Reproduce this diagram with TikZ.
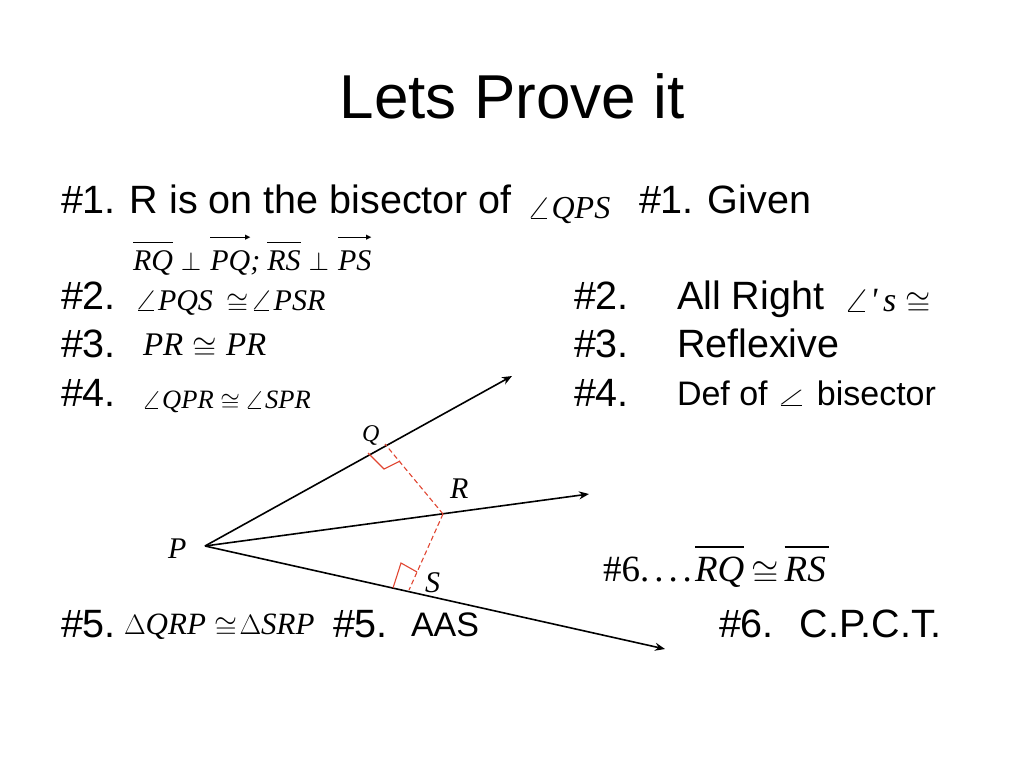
\documentclass[tikz,border=0pt]{standalone}
\usepackage{graphicx}
\usepackage{fontspec}
\setmainfont{Liberation Sans}
\newfontfamily\tm{Liberation Serif}
\newfontfamily\djv{DejaVu Sans}
\usetikzlibrary{arrows.meta}
\newcommand{\mi}[1]{{\tm\itshape #1}}
\newcommand{\ang}{\resizebox{.8em}{.62em}{$\angle$}}
\newcommand{\angflat}{\kern-2pt\resizebox{.95em}{.42em}{$\angle$}}
\newcommand{\cg}{\raisebox{-.12em}{\resizebox{.74em}{!}{$\cong$}}}
\newcommand{\pp}{\resizebox{.68em}{!}{$\perp$}}
\newcommand{\trg}{\resizebox{.7em}{!}{$\Delta$}}
\newcommand{\ol}[1]{\vbox{\hrule height 1.2pt\kern.24em\hbox{\mi{#1}}}}
\newsavebox{\orbox}
\newcommand{\orr}[1]{\sbox{\orbox}{\mi{#1}}\vbox{\offinterlineskip\hbox to \wd\orbox{\leaders\vrule height .6pt depth .6pt\hfill\kern-1.5pt\raisebox{-2.3pt}{\fontsize{7}{7}\selectfont\djv ▶}}\kern.32em\box\orbox}}
\newcommand{\fs}[1]{\fontsize{#1}{#1}\selectfont}
\definecolor{redc}{RGB}{225,70,50}
\tikzset{
  lbl/.style={anchor=base west,inner sep=0pt,outer sep=0pt,text=black},
  body/.style={lbl,font=\fs{39.5}},
  small/.style={lbl,font=\fs{34}},
  ray/.style={draw=black,line width=1.6pt,-{Stealth[length=10pt,width=8pt]}},
  redl/.style={draw=redc,line width=1.1pt},
  redd/.style={redl,dash pattern=on 5pt off 3pt}
}
\begin{document}
\begin{tikzpicture}[x=1pt,y=-1pt]
\useasboundingbox (0,0) rectangle (1024,768);
\fill[white] (0,0) rectangle (1024,768);
\node[lbl,font=\fs{62},anchor=base] (title) at (512,118) {Lets Prove it};
\node[body] (a1) at (61,213) {\#1.\kern3pt\ R is on the bisector of};
\node[lbl,font=\fs{32}] (m1) at (526,218) {\ang\mi{QPS}};
\node[body] (b1) at (639,213) {\#1.\kern3pt\ Given};
\node[lbl,font=\fs{30}] (m1b) at (133,270) {\ol{RQ}\kern8pt\pp\kern9pt\orr{PQ}\mi{;}\kern7pt\ol{RS}\kern8pt\pp\kern9pt\orr{PS}};
\node[body] (a2) at (61,309) {\#2.};
\node[lbl,font=\fs{30}] (m2) at (134,310) {\ang\mi{PQS}\kern.45em\cg\kern1pt\ang\mi{PSR}};
\node[body] (b2) at (574,309) {\#2.};
\node[body] (b2t) at (677,309) {All Right};
\node[lbl,font=\fs{34}] (b2m) at (843,311) {\ang\mi{'\,s} \cg};
\node[body] (a3) at (61,357) {\#3.};
\node[lbl,font=\fs{33}] (m3) at (143,355) {\mi{PR} \cg{} \mi{PR}};
\node[body] (b3) at (574,357) {\#3.};
\node[body] (b3t) at (677,357) {Reflexive};
\node[body] (a4) at (61,406) {\#4.};
\node[lbl,font=\fs{26.5}] (m4) at (141,408) {\ang\mi{QPR}\kern.25em\cg\kern.15em\ang\mi{SPR}};
\node[body] (b4) at (574,406) {\#4.};
\node[small] (b4t) at (677,405) {Def of \angflat{} bisector};
\node[body] (a5) at (61,637) {\#5.};
\node[lbl,font=\fs{31}] (m5) at (124,634) {\trg\mi{QRP} \cg\kern2pt\trg\mi{SRP}};
\node[body] (b5) at (333,637) {\#5.};
\node[small] (b5t) at (411,636) {AAS};
\node[lbl,font=\fs{37}] (m6) at (603,581) {{\tm\#6.\kern5pt.\kern5pt.\kern5pt.\kern3pt}\ol{RQ}\kern.2em\cg\kern.15em\ol{RS\kern3pt}};
\node[body] (c6) at (719,637) {\#6.\ \ \kern4pt C.P.C.T.};
\coordinate (P) at (205,546);
\coordinate (QE) at (512,376);
\coordinate (RE) at (589,494);
\coordinate (SE) at (665,649);
\coordinate (R) at (443,514);
\coordinate (Qf) at (385,444);
\coordinate (Sf) at (409,590);
\path[ray] (P) -- (QE);
\path[ray] (P) -- (RE);
\path[ray] (P) -- (SE);
\path[redd] (R) -- (Qf);
\path[redd] (R) -- (Sf);
\path[redl] (368,453) -- (384,469) -- (400,461);
\path[redl] (393,588) -- (401,563) -- (417,572);
\node[lbl,font=\fs{24}] (lQ) at (362,441) {\mi{Q}};
\node[lbl,font=\fs{30}] (lR) at (450,498) {\mi{R}};
\node[lbl,font=\fs{30}] (lP) at (168,558) {\mi{P}};
\node[lbl,font=\fs{30}] (lS) at (425,592) {\mi{S}};
\end{tikzpicture}
\end{document}
